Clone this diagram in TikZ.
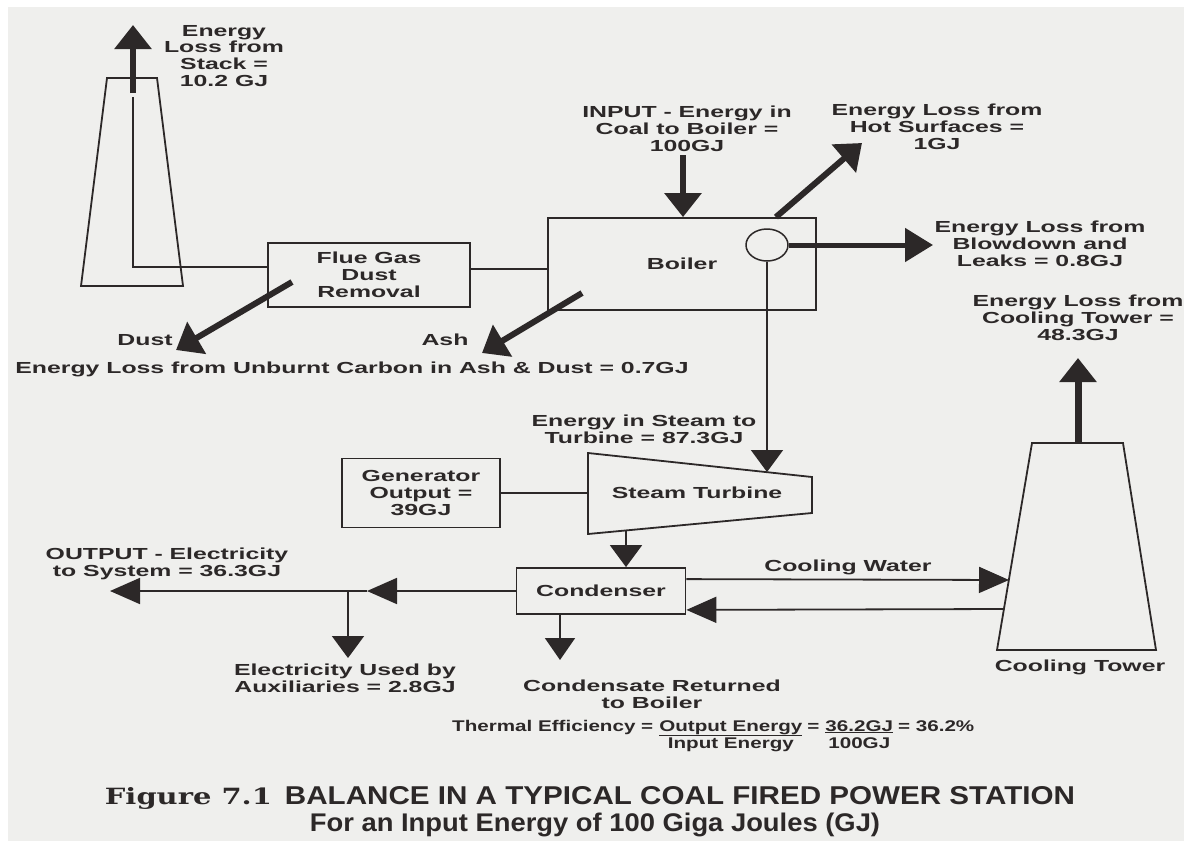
\documentclass[tikz,border=0pt]{standalone}
\usepackage{fontspec}
\newfontfamily\df[FakeStretch=1.55]{Liberation Sans}
\newfontfamily\ef[FakeStretch=1.33]{Liberation Sans}
\newfontfamily\capf{Liberation Sans}
\newfontfamily\figf{DejaVu Serif}
\usetikzlibrary{arrows.meta,shapes.geometric,calc}
\definecolor{bg}{HTML}{EFEFED}
\definecolor{ink}{HTML}{2C2828}
\begin{document}
\begin{tikzpicture}[x=1pt,y=-1pt]
\tikzset{
 lbl/.style={text=ink, font=\df\bfseries\fontsize{16}{16.9}\selectfont, align=center, inner sep=0pt},
 boxn/.style={draw=ink, line width=1.8pt, lbl, inner sep=0pt},
 pipe/.style={draw=ink, line width=1.8pt},
 fat/.style={draw=ink, line width=6pt, -{Triangle[length=24pt,width=36pt]}},
 thinarr/.style={draw=ink, line width=1.8pt, -{Triangle[length=22pt,width=32pt]}},
 harr/.style={draw=ink, line width=1.8pt, -{Triangle[length=30pt,width=26pt]}},
}
\useasboundingbox (0,0) rectangle (1189,846);
\fill[white] (0,0) rectangle (1189,846);
\fill[bg] (8,7) rectangle (1184,841);

% stack
\draw[pipe] (107,78) -- (157,78) -- (183,286) -- (81,286) -- cycle;
% cooling tower
\draw[pipe] (1032,443) -- (1123,443) -- (1156,650) -- (997,650) -- cycle;
% turbine
\draw[pipe] (588,453) -- (812,477) -- (812,513) -- (588,534) -- cycle;

% boxes
\node[boxn, minimum width=202pt, minimum height=64pt] (flue) at (369,275) {Flue Gas\\Dust\\Removal};
\node[boxn, minimum width=268pt, minimum height=92pt] (boiler) at (682,264) {Boiler};
\node[draw=ink, line width=1.5pt, ellipse, minimum width=42pt, minimum height=32pt, inner sep=0pt] (drum) at (767,245) {};
\node[boxn, minimum width=158pt, minimum height=69pt] (gen) at (421,493) {Generator\\Output =\\39GJ};
\node[boxn, minimum width=169pt, minimum height=46pt] (cond) at (601,591) {Condenser};
\node[lbl] (turb) at (697,493) {Steam Turbine};

% coordinates
\coordinate (stkBase) at (133,97);
\coordinate (stkTop) at (133,93);
\coordinate (stkLoss) at (133,25);
\coordinate (inTail) at (683,155);
\coordinate (hsTip) at (862,143);
\coordinate (bdTip) at (933,245);
\coordinate (dustStart) at (292,282);
\coordinate (dustTip) at (176,350);
\coordinate (ashStart) at (582,293);
\coordinate (ashTip) at (482,353);
\coordinate (turbW) at (588,493);
\coordinate (turbT) at (767,472);
\coordinate (turbB) at (626,530);
\coordinate (ctIn) at (1009,580);
\coordinate (ctOut) at (1004,609);
\coordinate (ctTop) at (1078,443);
\coordinate (ctLoss) at (1078,358);
\coordinate (midTip) at (367,591);
\coordinate (outTip) at (110,591);
\coordinate (auxJ) at (348,591);
\coordinate (auxTip) at (348,658);
\coordinate (csTip) at (560,660);

% connectors
\draw[pipe, line width=2.5pt] ([yshift=8pt]flue.west) -| (stkBase);
\draw[fat] (stkTop) -- (stkLoss);
\draw[pipe] ([yshift=6pt]flue.east) -- ([yshift=6pt]flue.east -| boiler.west);
\draw[fat] (inTail) -- (inTail |- boiler.north);
\draw[fat] ([xshift=-41pt]boiler.north east) -- (hsTip);
\draw[fat, line width=5pt, -{Triangle[length=28pt,width=33pt]}] (drum.east) -- (bdTip);
\draw[fat] (dustStart) -- (dustTip);
\draw[fat] (ashStart) -- (ashTip);
\draw[thinarr] (drum.south) -- (turbT);
\draw[pipe] (gen.east) -- (turbW);
\draw[thinarr] (turbB) -- (turbB |- cond.north);
\draw[harr] ([yshift=-12pt]cond.north east) -- (ctIn);
\draw[harr] (ctOut) -- ([yshift=5pt]cond.south east);
\draw[fat, line width=7pt] (ctTop) -- (ctLoss);
\draw[harr] (cond.west) -- (midTip);
\draw[harr] (midTip) -- (outTip);
\draw[thinarr] (auxJ) -- (auxTip);
\draw[thinarr, -{Triangle[length=22pt,width=30pt]}] (cond.south -| csTip) -- (csTip);

% labels
\node[lbl] (lstack) at (224,56) {Energy\\Loss from\\Stack =\\10.2 GJ};
\node[lbl] (linput) at (687,129) {INPUT - Energy in\\Coal to Boiler =\\100GJ};
\node[lbl] (lhot) at (937,127) {Energy Loss from\\Hot Surfaces =\\1GJ};
\node[lbl] (lblow) at (1040,244) {Energy Loss from\\Blowdown and\\Leaks = 0.8GJ};
\node[lbl] (lcool) at (1078,318) {Energy Loss from\\Cooling Tower =\\48.3GJ};
\node[lbl] (ldust) at (145,340) {Dust};
\node[lbl] (lash) at (445,340) {Ash};
\node[lbl] (lunb) at (352,369) {Energy Loss from Unburnt Carbon in Ash \& Dust = 0.7GJ};
\node[lbl] (lsteam) at (644,429) {Energy in Steam to\\Turbine = 87.3GJ};
\node[lbl] (lcw) at (848,567) {Cooling Water};
\node[lbl] (lout) at (167,564) {OUTPUT - Electricity\\to System = 36.3GJ};
\node[lbl] (laux) at (345,678) {Electricity Used by\\Auxiliaries = 2.8GJ};
\node[lbl] (lcs) at (652,694) {Condensate Returned\\to Boiler};
\node[lbl] (lct) at (1080,667) {Cooling Tower};

\node[lbl, anchor=base west, font=\ef\bfseries\fontsize{15.5}{17.5}\selectfont] (eff) at (452,731) {%
\begin{tabular}[t]{@{}l@{}c@{}c@{}c@{}l@{}}
Thermal Efficiency =\kern6pt & \underline{Output Energy} & \kern5pt=\kern6pt & \underline{36.2GJ} & \kern5pt= 36.2\%\\
 & Input Energy & & 100GJ &
\end{tabular}};

% caption
\node[text=ink, inner sep=0pt, anchor=base] (cap1) at (590,804) {%
\resizebox{167pt}{17pt}{\figf\bfseries Figure 7.1}\hspace{13pt}%
\resizebox{790pt}{18pt}{\capf\bfseries BALANCE IN A TYPICAL COAL FIRED POWER STATION}};
\node[text=ink, inner sep=0pt, anchor=base] (cap2) at (595,831) {%
\resizebox{570pt}{18.5pt}{\capf\bfseries For an Input Energy of 100 Giga Joules (GJ)}};
\end{tikzpicture}
\end{document}
